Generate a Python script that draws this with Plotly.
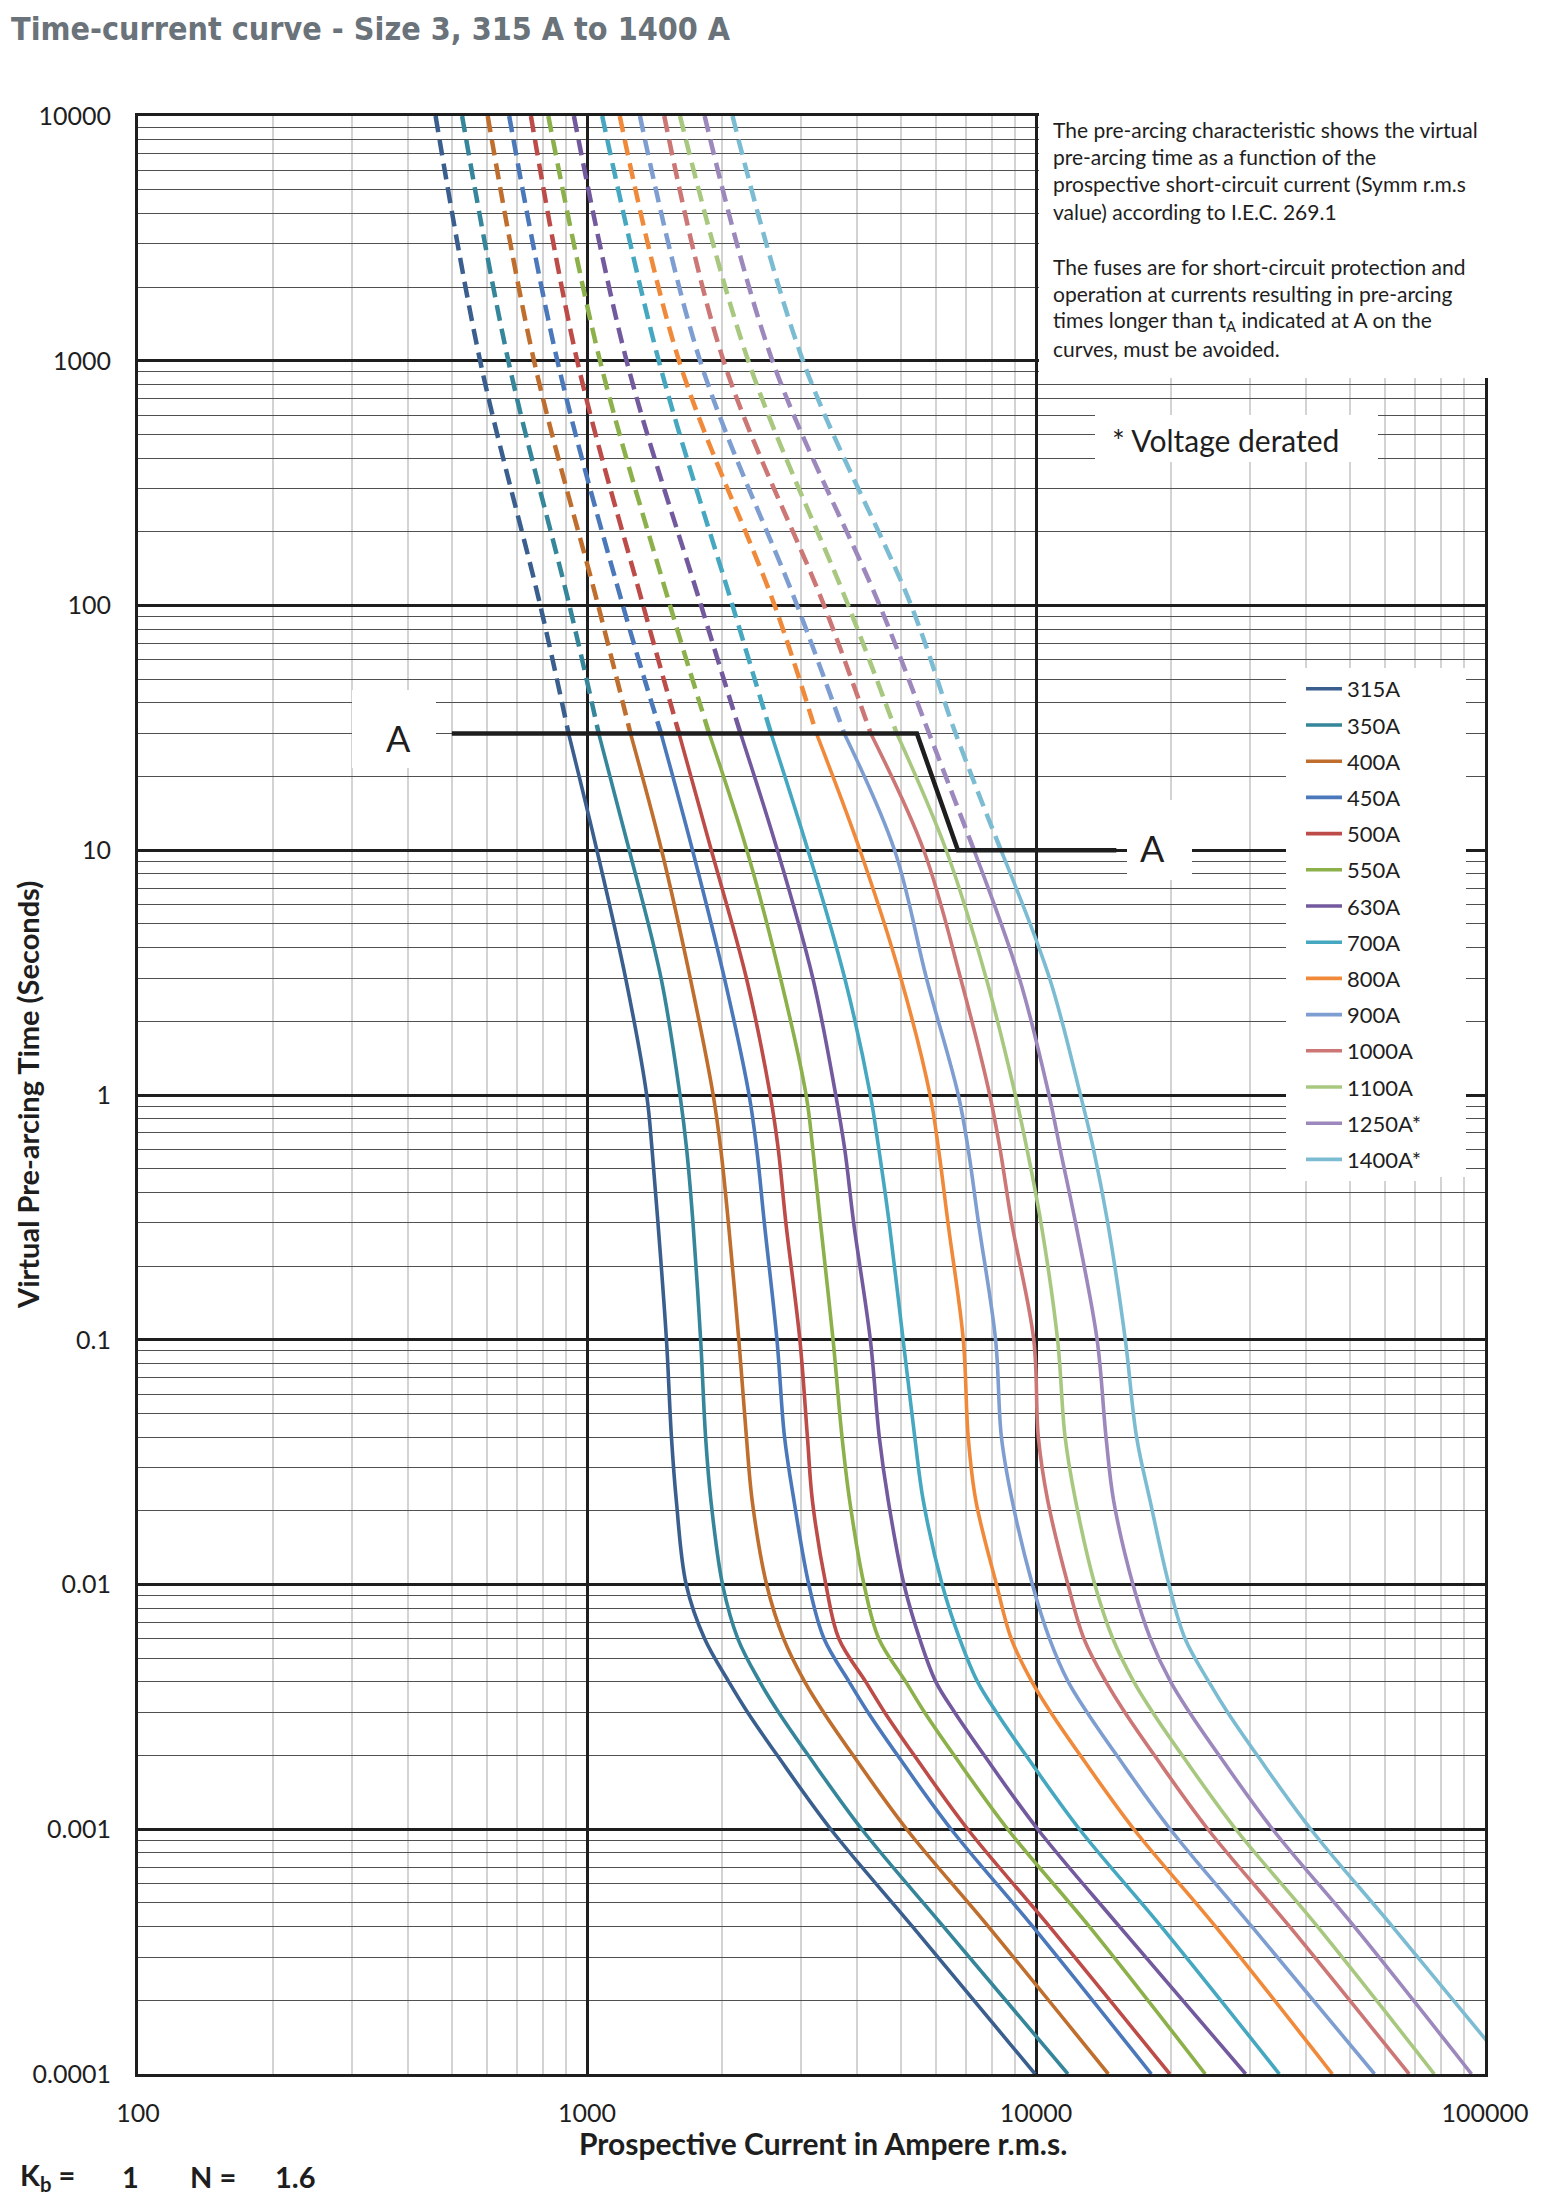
import plotly.graph_objects as go

# pre-arcing time (s) at which each curve was read
T_SEC = [10000, 1000, 100, 30, 10, 3, 1, 0.6, 0.3, 0.1, 0.04, 0.022, 0.01,
         0.006, 0.004, 0.003, 0.002, 0.001, 0.0004, 0.0001]

# prospective current (A) for each fuse rating at the times above
I_315A = [460, 578, 787, 910, 1052, 1219, 1358, 1396, 1439, 1503, 1542, 1581, 1663, 1828, 2070, 2280, 2655, 3491, 5309, 9954]
I_350A = [527, 668, 914, 1062, 1242, 1462, 1611, 1667, 1722, 1791, 1837, 1888, 2004, 2168, 2427, 2673, 3112, 4093, 6223, 11780]
I_400A = [601, 762, 1059, 1250, 1466, 1698, 1910, 1986, 2065, 2178, 2265, 2333, 2512, 2742, 3055, 3365, 3917, 5152, 7834, 14490]
I_450A = [671, 859, 1202, 1462, 1718, 2023, 2296, 2388, 2483, 2649, 2754, 2891, 3119, 3373, 3837, 4227, 4920, 6471, 9840, 18070]
I_500A = [750, 951, 1334, 1603, 1892, 2265, 2559, 2667, 2773, 2979, 3097, 3177, 3404, 3639, 4178, 4603, 5358, 7047, 10720, 19860]
I_550A = [820, 1069, 1531, 1871, 2270, 2698, 3076, 3184, 3311, 3532, 3698, 3846, 4140, 4467, 5129, 5649, 6577, 8650, 13150, 23820]
I_630A = [935, 1225, 1795, 2198, 2655, 3184, 3581, 3750, 3926, 4276, 4477, 4688, 5082, 5508, 5984, 6592, 7674, 10090, 15350, 29310]
I_700A = [1081, 1445, 2109, 2570, 3105, 3750, 4276, 4467, 4710, 5058, 5370, 5610, 6180, 6761, 7413, 8166, 9506, 12500, 19010, 34830]
I_800A = [1183, 1603, 2618, 3243, 4055, 5000, 5808, 6067, 6368, 6887, 7063, 7345, 8166, 8810, 9795, 10790, 12560, 16520, 25120, 45710]
I_900A = [1312, 1786, 2938, 3741, 4842, 5702, 6714, 7063, 7447, 8128, 8375, 8851, 9817, 10720, 11800, 13000, 15140, 19910, 30270, 56750]
I_1000A = [1486, 2014, 3373, 4285, 5623, 6792, 7889, 8318, 8831, 9886, 10120, 10620, 11780, 12790, 14320, 15780, 18370, 24150, 36730, 67760]
I_1100A = [1611, 2286, 3819, 4898, 6310, 7745, 8995, 9550, 10260, 11170, 11610, 12250, 13520, 14830, 16520, 18200, 21180, 27860, 42370, 77090]
I_1250A = [1828, 2588, 4487, 5781, 7278, 9183, 10690, 11320, 12250, 13680, 14320, 14890, 16440, 17990, 19950, 21980, 25590, 33650, 51170, 93330]
I_1400A = [2109, 3027, 5272, 6622, 8356, 10720, 12560, 13430, 14450, 15810, 16750, 17950, 19770, 21480, 24270, 26730, 31120, 40930, 62230, 116100]

RATINGS = ["315A", "350A", "400A", "450A", "500A", "550A", "630A", "700A",
           "800A", "900A", "1000A", "1100A", "1250A*", "1400A*"]
CURRENTS = [I_315A, I_350A, I_400A, I_450A, I_500A, I_550A, I_630A, I_700A,
            I_800A, I_900A, I_1000A, I_1100A, I_1250A, I_1400A]
# time below which the curve is drawn solid (dashed above, t > tA)
SOLID_FROM = [30, 30, 30, 30, 30, 30, 30, 30, 30, 30, 30, 30, 10, 10]
COLORS = ["#3a5f8f", "#35869a", "#bf6e2d", "#4a78ba", "#bd4b48", "#8cb04a", "#73599d",
          "#45a8c0", "#f08a3a", "#7e9ed2", "#cc7675", "#a8c880", "#9c88bc", "#7cbcd2"]

# the "A" line (tA)
A_CURRENT = [500, 5430, 6700, 15100]
A_TIME = [30, 30, 10, 10]

X_TICKS = [100, 1000, 10000, 100000]
X_TICK_TEXT = ["100", "1000", "10000", "100000"]
Y_TICKS = [0.0001, 0.001, 0.01, 0.1, 1, 10, 100, 1000, 10000]
Y_TICK_TEXT = ["0.0001", "0.001", "0.01", "0.1", "1", "10", "100", "1000", "10000"]

NOTE_LINES = [
    "The pre-arcing characteristic shows the virtual",
    "pre-arcing time as a function of the",
    "prospective short-circuit current (Symm r.m.s",
    "value) according to I.E.C. 269.1",
    "The fuses are for short-circuit protection and",
    "operation at currents resulting in pre-arcing",
    "times longer than t<sub>A</sub> indicated at A on the",
    "curves, must be avoided.",
]

FONT = "Lato, 'Open Sans', sans-serif"
INK = "#1e1e1e"

# plot area in page pixels
PX_L, PX_R, PX_T, PX_B = 138, 1485, 116, 2074


def px_x(x):
    return (x - PX_L) / (PX_R - PX_L)


def px_y(y):
    return 1 - (y - PX_T) / (PX_B - PX_T)


fig = go.Figure()

for name, cur, t_solid, col in zip(RATINGS, CURRENTS, SOLID_FROM, COLORS):
    k = T_SEC.index(t_solid)
    fig.add_trace(go.Scatter(
        x=cur[:k + 1], y=T_SEC[:k + 1], mode="lines", name=name,
        legendgroup=name, showlegend=False, hoverinfo="skip",
        line=dict(color=col, width=4.5, dash="16px,8px", shape="spline", smoothing=1.0),
    ))
    fig.add_trace(go.Scatter(
        x=cur[k:], y=T_SEC[k:], mode="lines", name=name, legendgroup=name,
        line=dict(color=col, width=3.6, shape="spline", smoothing=1.0),
    ))

fig.add_trace(go.Scatter(
    x=A_CURRENT, y=A_TIME, mode="lines", showlegend=False, hoverinfo="skip",
    line=dict(color=INK, width=4.5),
))

# white patches that hide the grid behind the texts and the legend
white_boxes = [
    (1039, 1600, -20, 378),   # notes
    (1095, 1378, 415, 462),   # voltage derated
    (352, 436, 690, 768),     # left A
    (1127, 1192, 800, 880),   # right A
    (1286, 1466, 668, 1177),  # legend
]
for x0, x1, y0, y1 in white_boxes:
    fig.add_shape(type="rect", xref="paper", yref="paper",
                  x0=px_x(x0), x1=px_x(x1), y0=px_y(y1), y1=px_y(y0),
                  fillcolor="white", line=dict(width=0), layer="above")

ann = []
ann.append(dict(text="<b>Time-current curve - Size 3, 315 A to 1400 A</b>",
                x=px_x(9), y=px_y(29), xanchor="left", yanchor="middle",
                font=dict(family="'Liberation Sans Narrow', 'DejaVu Sans Condensed', Roboto, sans-serif",
                          size=32, color="#6a727a")))
for i, line in enumerate(NOTE_LINES):
    yy = 129 + i * 27.4 + (27.4 if i >= 4 else 0)
    ann.append(dict(text=line, x=px_x(1051), y=px_y(yy), xanchor="left", yanchor="middle",
                    font=dict(family=FONT, size=21, color=INK)))
ann.append(dict(text="* Voltage derated", x=px_x(1110), y=px_y(440), xanchor="left",
                yanchor="middle", font=dict(family=FONT, size=30, color=INK)))
ann.append(dict(text="A", x=px_x(398), y=px_y(738), xanchor="center", yanchor="middle",
                font=dict(family=FONT, size=36, color=INK)))
ann.append(dict(text="A", x=px_x(1152), y=px_y(848), xanchor="center", yanchor="middle",
                font=dict(family=FONT, size=36, color=INK)))
ann.append(dict(text="<b>Virtual Pre-arcing Time (Seconds)</b>", x=px_x(27), y=px_y(1095),
                xanchor="center", yanchor="middle", textangle=-90,
                font=dict(family=FONT, size=29, color=INK)))
ann.append(dict(text="<b>Prospective Current in Ampere r.m.s.</b>", x=px_x(823), y=px_y(2143),
                xanchor="center", yanchor="middle", font=dict(family=FONT, size=30, color=INK)))
for txt, xx in [("K<sub>b</sub> =", 18), ("1", 120), ("N =", 188), ("1.6", 273)]:
    ann.append(dict(text="<b>" + txt + "</b>", x=px_x(xx), y=px_y(2176), xanchor="left",
                    yanchor="middle", font=dict(family=FONT, size=29, color=INK)))
for a in ann:
    a.update(xref="paper", yref="paper", showarrow=False)

axis_common = dict(
    type="log", showline=True, linewidth=3, linecolor=INK, mirror=True,
    ticks="", tickmode="array", zeroline=False,
    tickfont=dict(family=FONT, size=25, color=INK),
)

# the page body keeps its default 8px margin, so the figure is shifted by that much
OFF = 8
W, H = 1553 - OFF, 2195 - OFF
fig.update_layout(
    width=W, height=H,
    margin=dict(l=PX_L - OFF, r=W - (PX_R - OFF), t=PX_T - OFF, b=H - (PX_B - OFF), pad=0),
    paper_bgcolor="white", plot_bgcolor="white",
    annotations=ann,
    showlegend=True,
    legend=dict(x=px_x(1301), y=px_y(668), xanchor="left", yanchor="top",
                bgcolor="white", borderwidth=0, tracegroupgap=4.6, itemwidth=36,
                font=dict(family=FONT, size=22, color=INK)),
    xaxis=dict(axis_common, range=[2, 5], tickvals=X_TICKS, ticktext=X_TICK_TEXT,
               showgrid=True, gridcolor=INK, gridwidth=2.5, ticklabelstandoff=15,
               minor=dict(dtick="D1", showgrid=True, gridcolor="#d3d3d3", gridwidth=1.5, ticks="")),
    yaxis=dict(axis_common, range=[-4, 4], tickvals=Y_TICKS, ticktext=Y_TICK_TEXT,
               showgrid=True, gridcolor=INK, gridwidth=3, ticklabelstandoff=19,
               minor=dict(dtick="D1", showgrid=True, gridcolor="#505050", gridwidth=1.3, ticks="")),
)

fig.write_html("out.html")
